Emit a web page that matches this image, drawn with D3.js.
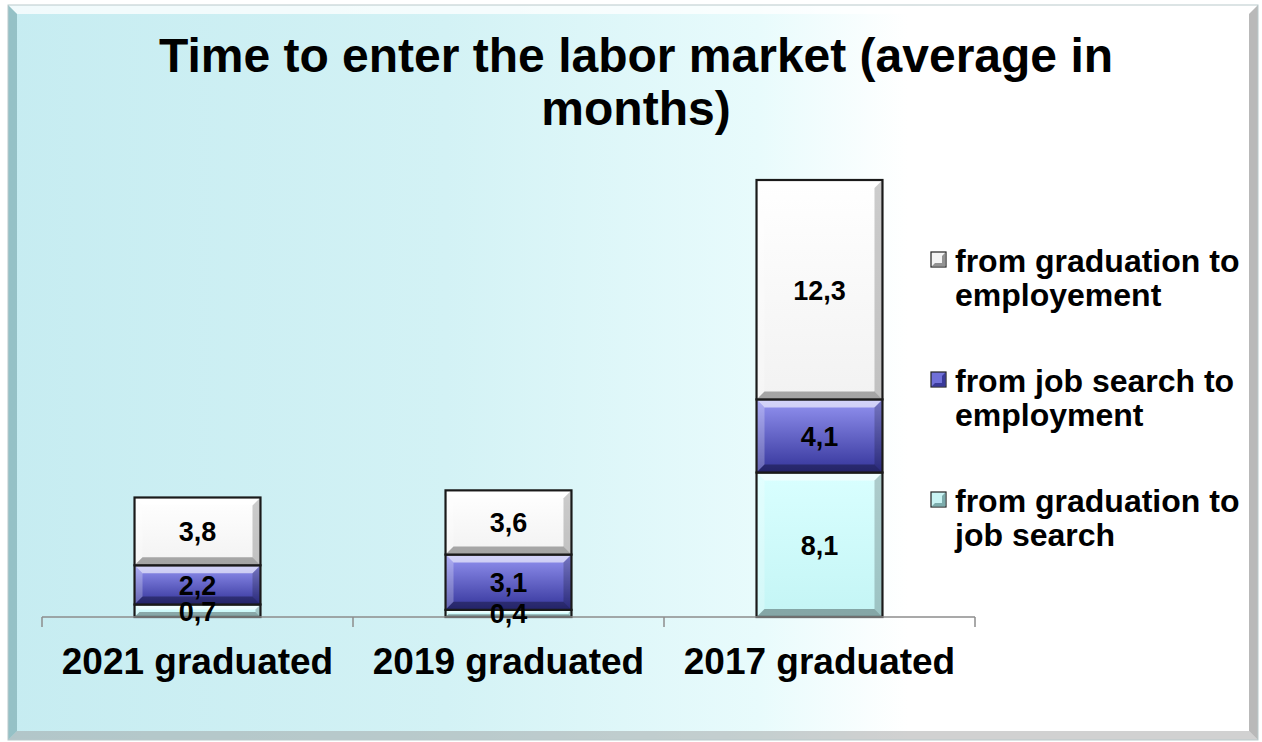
<!DOCTYPE html>
<html>
<head>
<meta charset="utf-8">
<script src="https://cdn.jsdelivr.net/npm/d3@7"></script>
<style>
  body { margin: 0; background: #ffffff; }
  svg { display: block; font-family: Arial, "Liberation Sans", sans-serif; }
</style>
</head>
<body>
<div id="chart"></div>
<script>
const categories = ['2021 graduated', '2019 graduated', '2017 graduated']
const seriesNames = ['from graduation to job search', 'from job search to employment', 'from graduation to employement']
const gradToSearch = [0.7, 0.4, 8.1]
const searchToEmploy = [2.2, 3.1, 4.1]
const gradToEmploy = [3.8, 3.6, 12.3]
const legendLines = [
  ['from graduation to', 'employement'],
  ['from job search to', 'employment'],
  ['from graduation to', 'job search'],
]
const titleLines = ['Time to enter the labor market (average in', 'months)']

const width = 1262
const height = 742
const margin = { top: 180, bottom: 125, left: 42, right: 287 }

const svg = d3.select('#chart').append('svg').attr('width', width).attr('height', height)
const defs = svg.append('defs')

// background gradient, cyan on the left fading to white
const bg = defs.append('linearGradient').attr('id', 'bg').attr('x1', 0).attr('x2', 1).attr('y1', 0).attr('y2', 0)
bg.append('stop').attr('offset', '0%').attr('stop-color', '#c6ecf1')
bg.append('stop').attr('offset', '35%').attr('stop-color', '#d3f2f5')
bg.append('stop').attr('offset', '60%').attr('stop-color', '#e8fbfc')
bg.append('stop').attr('offset', '72%').attr('stop-color', '#ffffff')
bg.append('stop').attr('offset', '100%').attr('stop-color', '#ffffff')

const fx = 8, fy = 5, fw = 1250, fh = 735
svg.append('rect').attr('x', fx).attr('y', fy).attr('width', fw).attr('height', fh).attr('fill', 'url(#bg)')

// frame bevel
const bw = 9
function bevel(points, fill, op) {
  svg.append('polygon').attr('points', points.map((p) => p.join(',')).join(' ')).attr('fill', fill).attr('opacity', op)
}
bevel([[fx, fy], [fx + fw, fy], [fx + fw - bw, fy + bw], [fx + bw, fy + bw]], '#ffffff', 0.75)
bevel([[fx, fy], [fx + bw, fy + bw], [fx + bw, fy + fh - bw], [fx, fy + fh]], '#6e9ea3', 0.55)
bevel([[fx + fw, fy], [fx + fw, fy + fh], [fx + fw - bw, fy + fh - bw], [fx + fw - bw, fy + bw]], '#8a8a8a', 0.6)
bevel([[fx, fy + fh], [fx + fw, fy + fh], [fx + fw - bw, fy + fh - bw], [fx + bw, fy + fh - bw]], '#9a9a9a', 0.45)
svg.append('rect').attr('x', fx).attr('y', fy).attr('width', fw).attr('height', fh)
  .attr('fill', 'none').attr('stroke', '#b9c9cb').attr('stroke-width', 1)

// title
svg.append('text')
  .attr('x', 636).attr('y', 72)
  .attr('text-anchor', 'middle')
  .style('font-size', '48px').style('font-weight', 'bold')
  .selectAll('tspan')
  .data(titleLines)
  .join('tspan')
  .attr('x', 636)
  .attr('dy', (d, i) => (i === 0 ? 0 : 53))
  .text((d) => d)

// scales
const x = d3.scaleBand().domain(categories).range([margin.left, width - margin.right]).padding(0)
const totals = categories.map((c, i) => gradToSearch[i] + searchToEmploy[i] + gradToEmploy[i])
const y = d3.scaleLinear().domain([0, d3.max(totals)]).range([height - margin.bottom, margin.top])

const table = categories.map((c, i) => ({
  cat: c,
  a: gradToSearch[i],
  b: searchToEmploy[i],
  c: gradToEmploy[i],
}))
const stack = d3.stack().keys(['a', 'b', 'c'])(table)

const fills = { a: 'url(#gA)', b: 'url(#gB)', c: 'url(#gC)' }
const gradStops = {
  gA: ['#d9ffff', '#c4f5f5'],
  gB: ['#9494f2', '#34349a'],
  gC: ['#ffffff', '#f2f2f2'],
}
Object.entries(gradStops).forEach(([id, s]) => {
  const g = defs.append('linearGradient').attr('id', id).attr('x1', 0).attr('x2', 0).attr('y1', 0).attr('y2', 1)
  g.append('stop').attr('offset', '0%').attr('stop-color', s[0])
  g.append('stop').attr('offset', '100%').attr('stop-color', s[1])
})

const barW = x.bandwidth() * 0.405
const bars = svg.append('g')

stack.forEach((layer) => {
  layer.forEach((d) => {
    const x0 = x(d.data.cat) + (x.bandwidth() - barW) / 2
    const y0 = y(d[1])
    const h = y(d[0]) - y(d[1])
    const g = bars.append('g')
    g.append('rect').attr('x', x0).attr('y', y0).attr('width', barW).attr('height', h).attr('fill', fills[layer.key])
    const b = Math.min(8, h / 2.5)
    const pts = (arr) => arr.map((p) => p.join(',')).join(' ')
    g.append('polygon').attr('points', pts([[x0, y0], [x0 + barW, y0], [x0 + barW - b, y0 + b], [x0 + b, y0 + b]]))
      .attr('fill', '#ffffff').attr('opacity', 0.6)
    g.append('polygon').attr('points', pts([[x0, y0], [x0 + b, y0 + b], [x0 + b, y0 + h - b], [x0, y0 + h]]))
      .attr('fill', '#ffffff').attr('opacity', 0.25)
    g.append('polygon').attr('points', pts([[x0 + barW, y0], [x0 + barW, y0 + h], [x0 + barW - b, y0 + h - b], [x0 + barW - b, y0 + b]]))
      .attr('fill', '#000000').attr('opacity', 0.2)
    g.append('polygon').attr('points', pts([[x0, y0 + h], [x0 + barW, y0 + h], [x0 + barW - b, y0 + h - b], [x0 + b, y0 + h - b]]))
      .attr('fill', '#000000').attr('opacity', 0.32)
    g.append('rect').attr('x', x0).attr('y', y0).attr('width', barW).attr('height', h)
      .attr('fill', 'none').attr('stroke', '#1a1a1a').attr('stroke-width', 2.2)
  })
})

// axis line and ticks between categories
const axisY = y(0)
const axis = svg.append('g')
axis.append('line').attr('x1', x.range()[0]).attr('x2', x.range()[1]).attr('y1', axisY).attr('y2', axisY)
  .attr('stroke', '#8c8c8c').attr('stroke-width', 1.5)
const edges = categories.map((c) => x(c)).concat([x.range()[1]])
axis.selectAll('.tk').data(edges).join('line')
  .attr('x1', (d) => d).attr('x2', (d) => d).attr('y1', axisY).attr('y2', axisY + 10)
  .attr('stroke', '#8c8c8c').attr('stroke-width', 1.5)

svg.append('g').selectAll('text').data(categories).join('text')
  .attr('x', (d) => x(d) + x.bandwidth() / 2)
  .attr('y', axisY + 57)
  .attr('text-anchor', 'middle')
  .style('font-size', '37px').style('font-weight', 'bold')
  .text((d) => d)

// data labels
const labels = svg.append('g')
stack.forEach((layer) => {
  labels.selectAll('.l' + layer.key).data(layer).join('text')
    .attr('x', (d) => x(d.data.cat) + x.bandwidth() / 2)
    .attr('y', (d) => (y(d[0]) + y(d[1])) / 2 + 10)
    .attr('text-anchor', 'middle')
    .style('font-size', '27px').style('font-weight', 'bold')
    .text((d) => String(d.data[layer.key]).replace('.', ','))
})

// legend
const legendColors = [['#f4f4f4', '#7a7a7a'], ['#7070d8', '#2c2c8a'], ['#c9f3f3', '#6a9a9a']]
const legend = svg.append('g').attr('transform', 'translate(931,252)')
legendLines.forEach((lines, i) => {
  const g = legend.append('g').attr('transform', `translate(0,${i * 120})`)
  g.append('rect').attr('x', 0).attr('y', 0).attr('width', 15).attr('height', 15)
    .attr('fill', legendColors[i][0]).attr('stroke', '#222').attr('stroke-width', 1.2)
  g.append('polygon').attr('points', '0.6,14.4 14.4,14.4 14.4,0.6 11,4 11,11 4,11')
    .attr('fill', legendColors[i][1]).attr('opacity', 0.8)
  g.append('text').attr('x', 24).attr('y', 20)
    .style('font-size', '32px').style('font-weight', 'bold')
    .selectAll('tspan').data(lines).join('tspan')
    .attr('x', 24).attr('dy', (d, j) => (j === 0 ? 0 : 34))
    .text((d) => d)
})
</script>
</body>
</html>
